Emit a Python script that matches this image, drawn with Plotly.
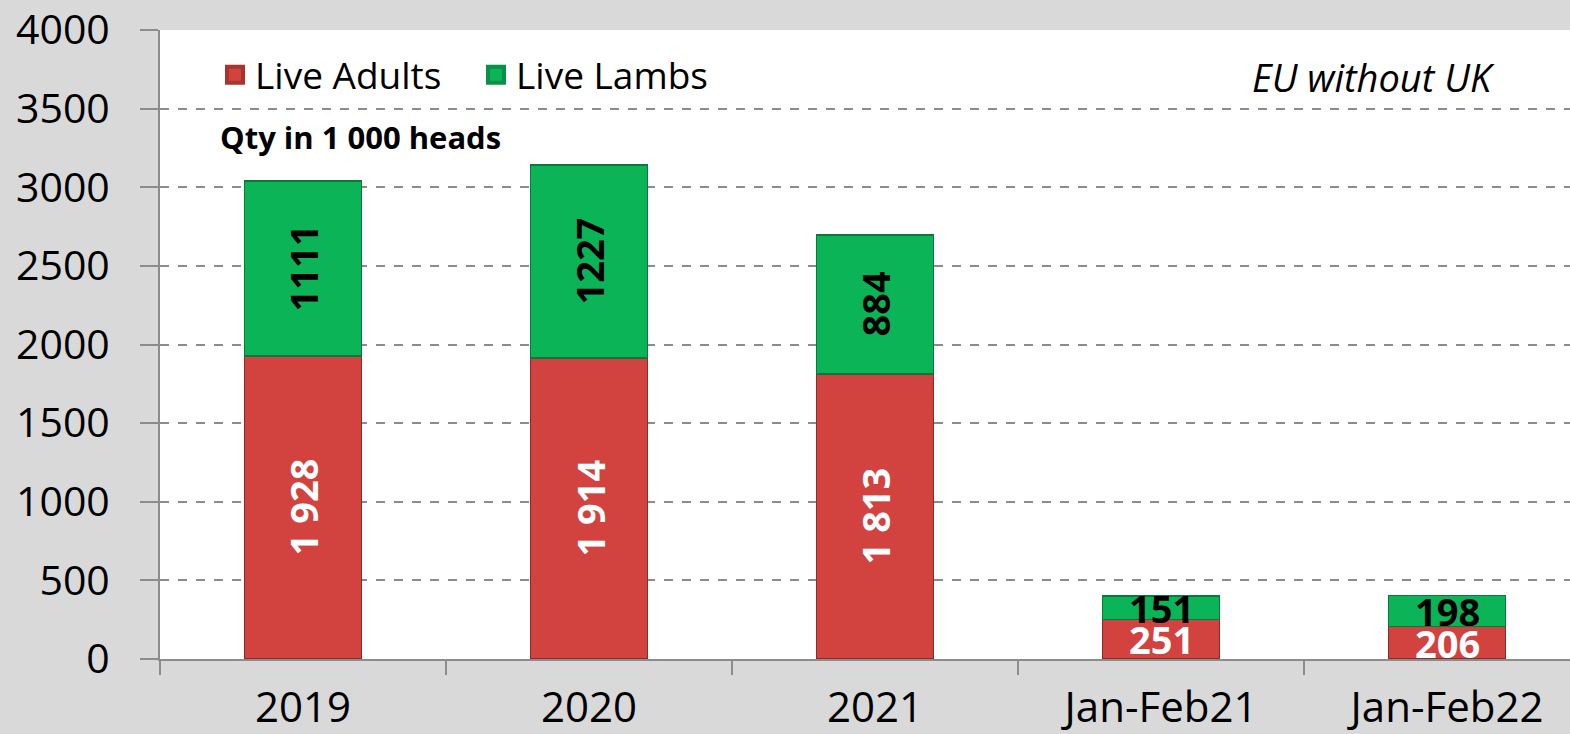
import plotly.graph_objects as go

# data
categories = ["2019", "2020", "2021", "Jan-Feb21", "Jan-Feb22"]
live_adults = [1928, 1914, 1813, 251, 206]
live_lambs = [1111, 1227, 884, 151, 198]
adult_labels = ["1 928", "1 914", "1 813", "251", "206"]
lamb_labels = ["1111", "1227", "884", "151", "198"]
rotated = [True, True, True, False, False]

RED = "#d2433f"
RED_EDGE = "#8c2a27"
GREEN = "#0ab457"
GREEN_EDGE = "#087a3c"
FONT = "Open Sans"

fig = go.Figure()
fig.add_trace(go.Bar(
    x=categories, y=live_adults, name="Live Adults",
    marker=dict(color=RED, line=dict(color=RED_EDGE, width=1.5)),
    width=0.41, showlegend=False,
))
fig.add_trace(go.Bar(
    x=categories, y=live_lambs, name="Live Lambs",
    marker=dict(color=GREEN, line=dict(color=GREEN_EDGE, width=1.5)),
    width=0.41, showlegend=False,
))

# legend entries (square markers)
for name, col, edge in [("Live Adults", RED, "#a8332f"), ("Live Lambs", GREEN, "#099149")]:
    fig.add_trace(go.Scatter(
        x=[None], y=[None], mode="markers", name=name,
        marker=dict(symbol="square", size=24, color=col, line=dict(color=edge, width=4)),
    ))

# value labels (category index used as x position)
for i, (a, l, al, ll, rot) in enumerate(zip(live_adults, live_lambs, adult_labels, lamb_labels, rotated)):
    fig.add_annotation(x=i, y=a / 2, text=f"<b>{al}</b>", showarrow=False,
                       textangle=-90 if rot else 0,
                       font=dict(family=FONT, size=38, color="white"))
    fig.add_annotation(x=i, y=a + l / 2, text=f"<b>{ll}</b>", showarrow=False,
                       textangle=-90 if rot else 0,
                       font=dict(family=FONT, size=38, color="black"))

fig.add_annotation(xref="paper", yref="paper", x=0.041, y=0.83, xanchor="left", yanchor="middle",
                   text="<b>Qty in 1 000 heads</b>", showarrow=False,
                   font=dict(family=FONT, size=31, color="black"))
fig.add_annotation(xref="paper", yref="paper", x=0.948, y=0.925, xanchor="right", yanchor="middle",
                   text="<i>EU without UK</i>", showarrow=False,
                   font=dict(family=FONT, size=38, color="black"))

fig.update_layout(
    barmode="stack",
    width=1570, height=734,
    margin=dict(l=160, r=0, t=30, b=75),
    paper_bgcolor="#d9d9d9",
    plot_bgcolor="white",
    font=dict(family=FONT, color="black"),
    legend=dict(orientation="h", x=0.039, y=0.928, xanchor="left", yanchor="middle",
                traceorder="normal", bgcolor="rgba(0,0,0,0)", font=dict(size=37),
                itemwidth=30, entrywidth=216),
    xaxis=dict(
        type="category", range=[-0.5, 4.43], showline=True, linecolor="#8c8c8c", linewidth=2,
        ticks="outside", tickson="boundaries", ticklen=14, tickwidth=2, tickcolor="#8c8c8c",
        tickfont=dict(size=42), ticklabelstandoff=11, showgrid=False, automargin=False,
    ),
    yaxis=dict(
        range=[0, 4000], dtick=500, showline=True, linecolor="#8c8c8c", linewidth=2,
        ticks="outside", ticklen=18, tickwidth=2, tickcolor="#8c8c8c",
        tickfont=dict(size=41), ticklabelstandoff=22, showgrid=True, gridcolor="#8c8c8c",
        gridwidth=2, griddash="dash", zeroline=False, automargin=False,
    ),
)

fig.write_html("out.html", config={"displayModeBar": False},
               post_script="document.body.style.margin='0';")
